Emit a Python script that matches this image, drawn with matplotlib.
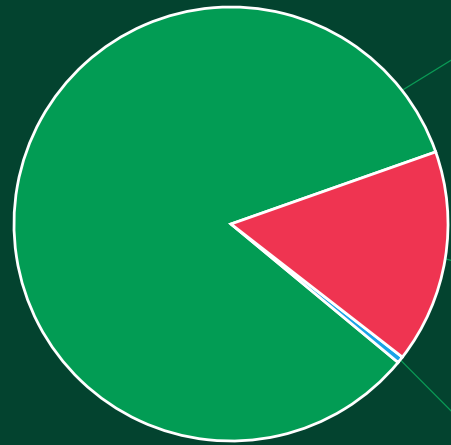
import numpy as np
import matplotlib
matplotlib.use("Agg")
import matplotlib.pyplot as plt

# valores das fatias (em %)
labels = ['Verde', 'Azul', 'Vermelho']
values = [83.6, 0.5, 15.9]
colors = ['#029c54', '#1aa3e8', '#ef3451']
bg = '#03432f'

start = 19.4  # ângulo inicial da primeira fatia

fig = plt.figure(figsize=(4.51, 4.45), dpi=100)
fig.patch.set_facecolor(bg)
ax = fig.add_axes([0, 0, 1, 1])
ax.set_facecolor(bg)

wedges, _ = ax.pie(values, colors=colors, startangle=start, counterclock=True,
                   radius=1.0, center=(0, 0),
                   wedgeprops=dict(edgecolor='white', linewidth=2.0))

# linhas de ligação para os rótulos (que ficam fora da imagem)
conn = []
for w in wedges:
    conn.append((w.theta1 + w.theta2) / 2)
conn[0] = 38.0  # o rótulo da fatia verde fica no lado direito
for ang in conn:
    a0 = np.radians(ang)
    a1 = np.radians(ang - 2 * np.sign(ang))
    ax.plot([np.cos(a0), 1.45 * np.cos(a1)], [np.sin(a0), 1.45 * np.sin(a1)],
            color='#0a9a55', lw=0.9, zorder=0.5)

# centro da pizza em (231, 224) px, raio 217 px
r = 217.0
ax.set_xlim(-231 / r, (451 - 231) / r)
ax.set_ylim(-(445 - 224) / r, 224 / r)
ax.set_aspect('auto')
ax.axis('off')

fig.savefig('out.png', dpi=100, facecolor=bg)
